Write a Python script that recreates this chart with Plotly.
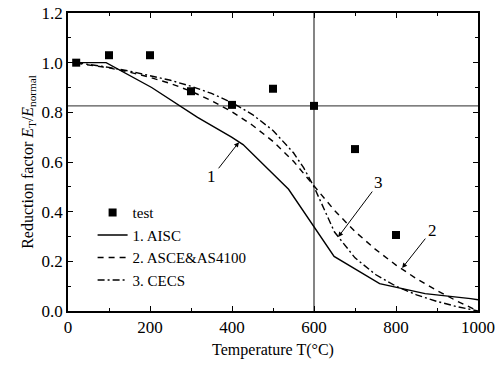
import plotly.graph_objects as go

# test data
test_T = [20, 100, 200, 300, 400, 500, 600, 700, 800]
test_k = [1.00, 1.03, 1.03, 0.885, 0.83, 0.895, 0.826, 0.652, 0.306]

# 1. AISC
aisc_T = [20, 93, 204, 316, 399, 427, 538, 649, 760, 871, 982, 1000]
aisc_k = [1.00, 1.00, 0.90, 0.78, 0.70, 0.67, 0.49, 0.22, 0.11, 0.07, 0.05, 0.045]

# 2. ASCE & AS4100
asce_T = [20, 50, 100, 150, 200, 250, 300, 350, 400, 450, 500, 550, 600,
          650, 700, 750, 800, 850, 900, 950, 1000]
asce_k = [0.998, 0.992, 0.979, 0.962, 0.941, 0.916, 0.885, 0.847, 0.802, 0.748,
          0.683, 0.603, 0.505, 0.405, 0.320, 0.248, 0.185, 0.130, 0.082, 0.039, 0.0]

# 3. CECS
cecs_T = [20, 50, 100, 150, 200, 250, 300, 350, 400, 450, 500, 550, 575, 600,
          650, 700, 750, 800, 850, 900, 950, 1000]
cecs_k = [1.00, 0.993, 0.981, 0.966, 0.949, 0.929, 0.905, 0.876, 0.839, 0.791,
          0.727, 0.637, 0.576, 0.500, 0.318, 0.214, 0.147, 0.100, 0.065, 0.0385,
          0.017, 0.0]

ref_T = 600
ref_k = 0.826

FONT = "Times New Roman, Liberation Serif, DejaVu Serif, serif"

fig = go.Figure()
fig.add_trace(go.Scatter(x=test_T, y=test_k, mode="markers", name="test",
                         marker=dict(symbol="square", size=8, color="black")))
fig.add_trace(go.Scatter(x=aisc_T, y=aisc_k, mode="lines", name="1. AISC",
                         line=dict(color="black", width=1.4)))
fig.add_trace(go.Scatter(x=asce_T, y=asce_k, mode="lines", name="2. ASCE&AS4100",
                         line=dict(color="black", width=1.4, dash="6px,5px")))
fig.add_trace(go.Scatter(x=cecs_T, y=cecs_k, mode="lines", name="3. CECS",
                         line=dict(color="black", width=1.4, dash="7px,3px,2px,3px")))

fig.add_shape(type="line", xref="x", yref="y", x0=ref_T, x1=ref_T, y0=0, y1=1.2,
              line=dict(color="#333", width=1.2), layer="below")
fig.add_shape(type="line", xref="x", yref="y", x0=0, x1=1000, y0=ref_k, y1=ref_k,
              line=dict(color="#555", width=1.2), layer="below")

arrows = [
    ("1", 417, 0.68, 351, 0.54),
    ("3", 659, 0.298, 758, 0.516),
    ("2", 815, 0.173, 888, 0.326),
]
for txt, hx, hy, tx, ty in arrows:
    fig.add_annotation(x=hx, y=hy, ax=tx, ay=ty, axref="x", ayref="y",
                       xref="x", yref="y", text="", showarrow=True,
                       arrowhead=2, arrowsize=1, arrowwidth=1, arrowcolor="black",
                       standoff=0, startstandoff=9)
    fig.add_annotation(x=tx, y=ty, xref="x", yref="y", text=txt, showarrow=False,
                       font=dict(family=FONT, size=17, color="black"))

axis_common = dict(showline=True, linecolor="black", linewidth=1.5, mirror="allticks",
                   ticks="inside", ticklen=5, tickwidth=1, tickcolor="black",
                   showgrid=False, zeroline=False, automargin=False,
                   tickfont=dict(family=FONT, size=17, color="black"))

fig.update_xaxes(range=[0, 1000], dtick=200, tick0=0,
                 minor=dict(dtick=100, ticks="inside", ticklen=3, tickcolor="black"),
                 title=dict(text="Temperature T(°C)", standoff=8,
                            font=dict(family=FONT, size=16, color="black")),
                 **axis_common)
fig.update_yaxes(range=[0, 1.2], dtick=0.2, tick0=0, tickformat=".1f",
                 minor=dict(dtick=0.1, ticks="inside", ticklen=3, tickcolor="black"),
                 title=dict(text="Reduction factor <i>E</i><sub>T</sub>/<i>E</i><sub>normal</sub>",
                            standoff=4, font=dict(family=FONT, size=16, color="black")),
                 **axis_common)

fig.update_layout(
    width=496, height=369,
    margin=dict(l=68, r=18, t=13, b=58),
    plot_bgcolor="white", paper_bgcolor="white",
    font=dict(family=FONT, color="black"),
    showlegend=True,
    legend=dict(x=0.06, y=0.385, xanchor="left", yanchor="top",
                bgcolor="rgba(0,0,0,0)", tracegroupgap=0,
                font=dict(family=FONT, size=15, color="black")),
)

fig.write_html("out.html", config={"displayModeBar": False},
               post_script="document.body.style.margin='0';")
